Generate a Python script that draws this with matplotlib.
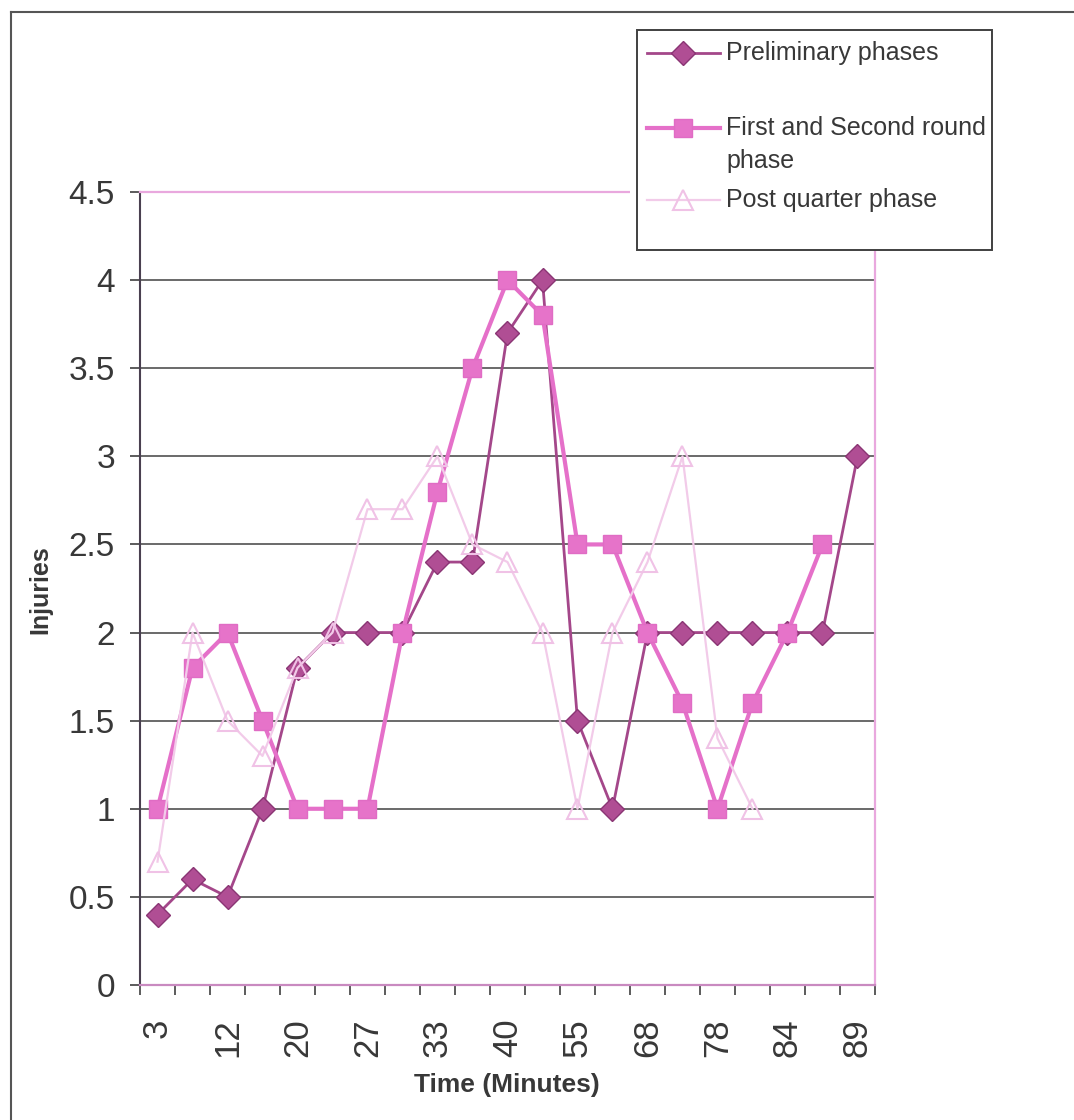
import numpy as np
import matplotlib.pyplot as plt
from matplotlib.lines import Line2D
from matplotlib.patches import Rectangle
from matplotlib.ticker import FuncFormatter

W, H = 1074, 1120

# only every second category is labelled on the chart
minute_labels = ['3', '12', '20', '27', '33', '40', '55', '68', '78', '84', '89']
n_categories = 21

preliminary = [0.4, 0.6, 0.5, 1.0, 1.8, 2.0, 2.0, 2.0, 2.4, 2.4, 3.7, 4.0,
               1.5, 1.0, 2.0, 2.0, 2.0, 2.0, 2.0, 2.0, 3.0]
first_second = [1.0, 1.8, 2.0, 1.5, 1.0, 1.0, 1.0, 2.0, 2.8, 3.5, 4.0, 3.8,
                2.5, 2.5, 2.0, 1.6, 1.0, 1.6, 2.0, 2.5]
post_quarter = [0.7, 2.0, 1.5, 1.3, 1.8, 2.0, 2.7, 2.7, 3.0, 2.5, 2.4, 2.0,
                1.0, 2.0, 2.4, 3.0, 1.4, 1.0]

series_names = ['Preliminary phases', 'First and Second round\nphase', 'Post quarter phase']

plt.rcParams['font.family'] = ['Liberation Sans', 'DejaVu Sans']
text_col = '#383838'
pink_border = '#E9A8DE'

styles = [
    dict(color='#A4478A', lw=2.0, marker='D', ms=12, mfc='#B04E94', mec='#8A3574', mew=1.0, zorder=3),
    dict(color='#E570C9', lw=3.0, marker='s', ms=13, mfc='#E673C9', mec='#E06CC4', mew=1.0, zorder=4),
    dict(color='#F2CBE9', lw=1.6, marker='^', ms=14, mfc='none', mec='#F0C2E6', mew=1.5, zorder=5),
]


def fx(px):
    return px / W


def fy(py):
    return 1 - py / H


fig = plt.figure(figsize=(W / 100, H / 100), dpi=100)
ax = fig.add_axes([fx(140), fy(985), (875 - 140) / W, (985 - 192) / H])

for values, st in zip([preliminary, first_second, post_quarter], styles):
    ax.plot(np.arange(len(values)), values, **st)

ax.set_xlim(-0.5, n_categories - 0.5)
ax.set_ylim(0, 4.5)

# y axis
ax.set_yticks(np.arange(0, 4.51, 0.5))
ax.yaxis.set_major_formatter(FuncFormatter(lambda v, p: '%g' % v))
ax.tick_params(axis='y', length=7, width=1.2, color='#404040', pad=11,
               labelsize=24, labelcolor=text_col)
ax.grid(axis='y', color='#5e5e5e', lw=1.3)
ax.set_axisbelow(True)

# x axis: ticks between categories, labels on every second category
ax.set_xticks(np.arange(-0.5, n_categories, 1.0))
ax.set_xticklabels([])
ax.tick_params(axis='x', which='major', length=7, width=1.2, color='#404040')
ax.set_xticks(np.arange(0, n_categories, 2), minor=True)
ax.set_xticklabels(minute_labels, minor=True, rotation=90)
ax.tick_params(axis='x', which='minor', length=0, pad=24, labelsize=25,
               labelcolor=text_col)

ax.spines['left'].set_color('#4a4050')
ax.spines['left'].set_linewidth(1.5)
for side in ['top', 'right', 'bottom']:
    ax.spines[side].set_color(pink_border)
    ax.spines[side].set_linewidth(1.6)
ax.spines['bottom'].set_color('#C98AC0')

fig.text(fx(507), fy(1085), 'Time (Minutes)', ha='center', va='center',
         fontsize=19, fontweight='bold', color=text_col)
fig.text(fx(40), fy(590), 'Injuries', ha='center', va='center', rotation=90,
         fontsize=18, fontweight='bold', color=text_col)

# outer frame of the chart object
fig.add_artist(Line2D([fx(11), fx(11)], [0, fy(12)], color='#555555', lw=1.5,
                      transform=fig.transFigure))
fig.add_artist(Line2D([fx(11), 1], [fy(12), fy(12)], color='#555555', lw=1.5,
                      transform=fig.transFigure))

# legend box drawn by hand (handle sits next to the first line of a wrapped label)
fig.add_artist(Rectangle((fx(630), fy(250)), (992 - 630) / W, (250 - 30) / H,
                         facecolor='white', edgecolor='none', zorder=5,
                         transform=fig.transFigure))
fig.add_artist(Rectangle((fx(637), fy(250)), (992 - 637) / W, (250 - 30) / H,
                         fill=False, edgecolor='#404040', lw=1.4, zorder=6,
                         transform=fig.transFigure))
legend_rows = [53, 128, 200]
for name, st, row in zip(series_names, styles, legend_rows):
    fig.add_artist(Line2D([fx(647), fx(720)], [fy(row), fy(row)], zorder=7,
                          color=st['color'], lw=st['lw'], transform=fig.transFigure))
    fig.add_artist(Line2D([fx(683)], [fy(row)], ls='none', marker=st['marker'],
                          ms=st['ms'], mfc=st['mfc'], mec=st['mec'], mew=st['mew'],
                          zorder=8, transform=fig.transFigure))
    lines = name.split('\n')
    for i, part in enumerate(lines):
        fig.text(fx(726), fy(row + i * 33), part, ha='left', va='center',
                 fontsize=18, color=text_col, zorder=8,
                 family=['Liberation Sans Narrow', 'Liberation Sans', 'DejaVu Sans'])

fig.savefig('out.png', dpi=100, facecolor='white')
